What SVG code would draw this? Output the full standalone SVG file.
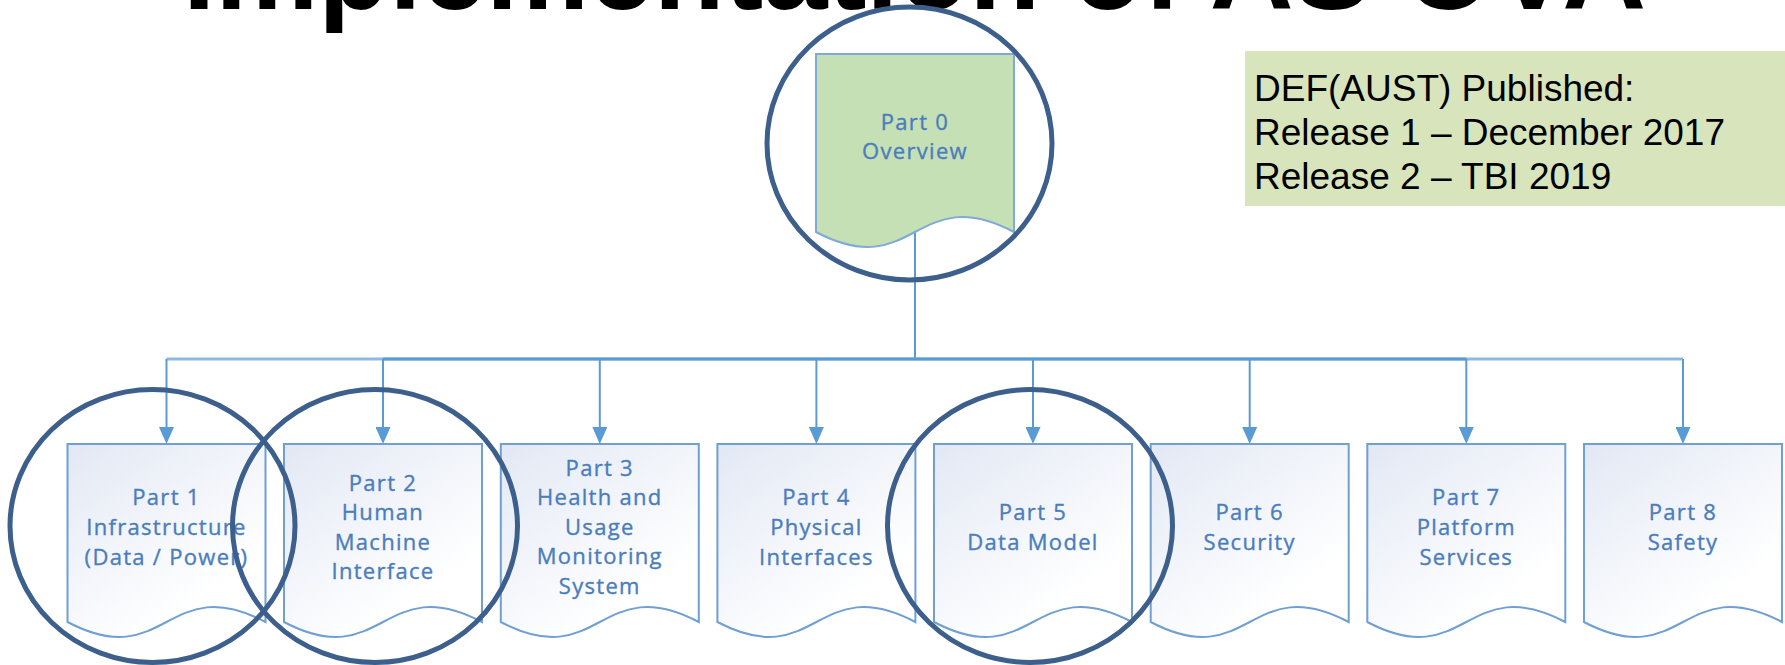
<svg xmlns="http://www.w3.org/2000/svg" width="1785" height="665" viewBox="0 0 1785 665">
<defs>
<linearGradient id="docfill" x1="0" y1="0" x2="0.6" y2="0.85">
<stop offset="0" stop-color="#E2E8F4"/>
<stop offset="1" stop-color="#FFFFFF"/>
</linearGradient>
<marker id="arr" viewBox="0 0 17 15" refX="14" refY="7.5" markerWidth="17" markerHeight="15" markerUnits="userSpaceOnUse" orient="auto">
<path d="M0,0 L17,7.5 L0,15 Z" fill="#5B9BD5"/>
</marker>
<path id="doc" d="M0,0 H198 V178 C99,126 99,230 0,178 Z"/>
</defs>
<style>
.doc{fill:url(#docfill);stroke:#6F9FD3;stroke-width:2}
.doc0{fill:#C5E0B4;stroke:#7FA9D6;stroke-width:2}
.lbl{font-family:"Open Sans","Liberation Sans",sans-serif;font-size:22px;fill:#4A7DBE;stroke:#4A7DBE;stroke-width:0.35;text-anchor:middle;letter-spacing:1.3px}
.con{fill:none;stroke:#5B9BD5;stroke-width:2}
.hl{fill:none;stroke:#3D5F8C;stroke-width:5}
.info{font-family:"Liberation Sans",Arial,sans-serif;font-size:37px;fill:#000}
</style>
<rect width="1785" height="665" fill="#FFFFFF"/>
<g id="title">
<text x="183" y="8.5" font-family="Liberation Sans, Arial, sans-serif" font-weight="bold" font-size="116" fill="#000">Implementation of AS OVA</text>
</g>
<g id="info">
<rect x="1245" y="51" width="545" height="155" fill="#D8E4BC"/>
<text class="info" x="1254" y="101">DEF(AUST) Published:</text>
<text class="info" x="1254" y="145">Release 1 – December 2017</text>
<text class="info" x="1254" y="189">Release 2 – TBI 2019</text>
</g>
<g id="connectors">
<path class="con" d="M915,232 V359"/>
<path class="con" style="stroke:#8DB8E2;stroke-width:3" d="M166.5,359 H1683"/>
<path class="con" style="stroke-width:3" d="M383,359 H1466.3"/>
<path class="con" marker-end="url(#arr)" d="M166.5,359 V441"/>
<path class="con" marker-end="url(#arr)" d="M383,359 V441"/>
<path class="con" marker-end="url(#arr)" d="M599.8,359 V441"/>
<path class="con" marker-end="url(#arr)" d="M816.4,359 V441"/>
<path class="con" marker-end="url(#arr)" d="M1033,359 V441"/>
<path class="con" marker-end="url(#arr)" d="M1249.7,359 V441"/>
<path class="con" marker-end="url(#arr)" d="M1466.3,359 V441"/>
<path class="con" marker-end="url(#arr)" d="M1683,359 V441"/>
</g>
<g id="part0">
<use href="#doc" class="doc0" x="816" y="54"/>
<text class="lbl" x="915" y="130">Part 0</text>
<text class="lbl" x="915" y="159">Overview</text>
</g>
<g id="part1">
<use href="#doc" class="doc" x="67.5" y="444"/>
<text class="lbl" x="166.5" y="505">Part 1</text>
<text class="lbl" x="166.5" y="535">Infrastructure</text>
<text class="lbl" x="166.5" y="564.5">(Data / Power)</text>
</g>
<g id="part2">
<use href="#doc" class="doc" x="284" y="444"/>
<text class="lbl" x="383" y="490.5">Part 2</text>
<text class="lbl" x="383" y="520">Human</text>
<text class="lbl" x="383" y="549.5">Machine</text>
<text class="lbl" x="383" y="579">Interface</text>
</g>
<g id="part3">
<use href="#doc" class="doc" x="500.8" y="444"/>
<text class="lbl" x="599.8" y="475.5">Part 3</text>
<text class="lbl" x="599.8" y="505">Health and</text>
<text class="lbl" x="599.8" y="534.5">Usage</text>
<text class="lbl" x="599.8" y="564">Monitoring</text>
<text class="lbl" x="599.8" y="593.5">System</text>
</g>
<g id="part4">
<use href="#doc" class="doc" x="717.4" y="444"/>
<text class="lbl" x="816.4" y="505">Part 4</text>
<text class="lbl" x="816.4" y="535">Physical</text>
<text class="lbl" x="816.4" y="564.5">Interfaces</text>
</g>
<g id="part5">
<use href="#doc" class="doc" x="934" y="444"/>
<text class="lbl" x="1033" y="520">Part 5</text>
<text class="lbl" x="1033" y="549.5">Data Model</text>
</g>
<g id="part6">
<use href="#doc" class="doc" x="1150.7" y="444"/>
<text class="lbl" x="1249.7" y="520">Part 6</text>
<text class="lbl" x="1249.7" y="549.5">Security</text>
</g>
<g id="part7">
<use href="#doc" class="doc" x="1367.3" y="444"/>
<text class="lbl" x="1466.3" y="505">Part 7</text>
<text class="lbl" x="1466.3" y="535">Platform</text>
<text class="lbl" x="1466.3" y="564.5">Services</text>
</g>
<g id="part8">
<use href="#doc" class="doc" x="1584" y="444"/>
<text class="lbl" x="1683" y="520">Part 8</text>
<text class="lbl" x="1683" y="549.5">Safety</text>
</g>
<g id="highlights">
<ellipse class="hl" cx="909.5" cy="143.5" rx="142.5" ry="136.5"/>
<ellipse class="hl" cx="152.5" cy="526" rx="142.5" ry="136.5"/>
<ellipse class="hl" cx="375" cy="526" rx="142.5" ry="136.5"/>
<ellipse class="hl" cx="1030" cy="526" rx="142.5" ry="136.5"/>
</g>
</svg>
